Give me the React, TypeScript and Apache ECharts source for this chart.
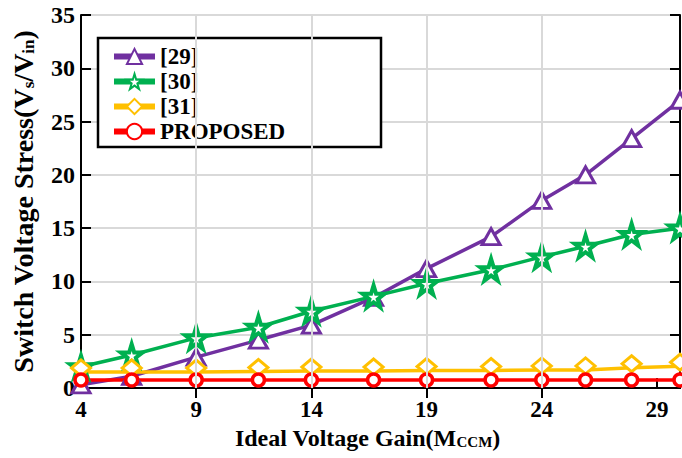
import React, { useEffect, useRef } from 'react';
import * as echarts from 'echarts';

const gain = [4, 6.2, 9, 11.7, 14, 16.7, 19, 21.8, 24, 25.9, 27.9, 30];
const ref29 = [0.3, 1.1, 2.9, 4.5, 5.9, 8.5, 11.2, 14.2, 17.6, 20.0, 23.4, 27.0];
const ref30 = [2.0, 3.1, 4.7, 5.7, 7.2, 8.6, 9.8, 11.1, 12.3, 13.3, 14.4, 15.0];
const ref31 = [1.5, 1.5, 1.5, 1.55, 1.6, 1.6, 1.65, 1.65, 1.7, 1.7, 1.9, 2.05];
const proposed = [0.75, 0.75, 0.75, 0.75, 0.75, 0.75, 0.75, 0.75, 0.75, 0.75, 0.75, 0.75];
const seriesNames = ['[29]', '[30]', '[31]', 'PROPOSED'];
const xTickLabels = [4, 9, 14, 19, 24, 29];
const xGridLines = [9, 14, 19, 24];

const FONT = '"Liberation Serif", "Times New Roman", serif';
const STAR = 'path://M50,0 L61,35 L98,35 L68,57 L79,91 L50,70 L21,91 L32,57 L2,35 L39,35 Z';

function pairs(ys: number[]) {
  return ys.map((y, i) => [gain[i], y]);
}

export default function App() {
  const ref = useRef<HTMLDivElement>(null);
  useEffect(() => {
    if (!ref.current) return;
    const chart = echarts.init(ref.current, null, { renderer: 'svg' });
    const axisLine = { show: true, lineStyle: { color: '#000', width: 2 } };
    const tick = { show: true, inside: true, length: 10, lineStyle: { color: '#000', width: 2 } };
    const mkSeries = (name: string, data: number[], color: string, symbol: string, size: any, bw: number, extra: any = {}) => ({
      name,
      type: 'line',
      data: pairs(data),
      symbol,
      symbolSize: size,
      showAllSymbol: true,
      clip: false,
      lineStyle: { color, width: 3.5 },
      itemStyle: { color: '#fff', borderColor: color, borderWidth: bw },
      emphasis: { disabled: true },
      z: 2,
      ...extra,
    });
    chart.setOption({
      animation: false,
      backgroundColor: '#fff',
      grid: { left: 81, right: 2, top: 15, bottom: 70 },
      xAxis: [
        {
          type: 'value',
          min: 4,
          max: 30,
          axisLine,
          axisTick: { ...tick, customValues: xTickLabels },
          splitLine: { show: false },
          axisLabel: {
            customValues: xTickLabels,
            color: '#000',
            fontFamily: FONT,
            fontWeight: 'bold',
            fontSize: 23,
            margin: 10,
          },
          name: '{a|Ideal Voltage Gain(M}{s|CCM}{a|)}',
          nameLocation: 'middle',
          nameGap: 36,
          nameTextStyle: {
            padding: [0, 26, 0, 0],
            rich: {
              a: { fontFamily: FONT, fontWeight: 'bold', fontSize: 24, color: '#000' },
              s: { fontFamily: FONT, fontWeight: 'bold', fontSize: 15, color: '#000', verticalAlign: 'bottom' },
            },
          },
        },
        {
          type: 'value',
          position: 'top',
          min: 4,
          max: 30,
          axisLine,
          axisTick: { ...tick, customValues: xGridLines },
          axisLabel: { show: false },
          splitLine: { show: false },
        },
      ],
      yAxis: [
        {
          type: 'value',
          min: 0,
          max: 35,
          interval: 5,
          axisLine,
          axisTick: tick,
          splitLine: { show: true, lineStyle: { color: '#d9d9d9', width: 2 } },
          axisLabel: {
            color: '#000',
            fontFamily: FONT,
            fontWeight: 'bold',
            fontSize: 24,
            margin: 6,
          },
          name: '{a|Switch Voltage Stress(V}{s|s}{a|/V}{s|in}{a|)}',
          nameLocation: 'middle',
          nameGap: 44,
          nameTextStyle: {
            rich: {
              a: { fontFamily: FONT, fontWeight: 'bold', fontSize: 28, color: '#000' },
              s: { fontFamily: FONT, fontWeight: 'bold', fontSize: 17, color: '#000', verticalAlign: 'bottom' },
            },
          },
        },
        {
          type: 'value',
          position: 'right',
          min: 0,
          max: 35,
          interval: 5,
          axisLine,
          axisTick: tick,
          axisLabel: { show: false },
          splitLine: { show: false },
        },
      ],
      legend: {
        data: seriesNames,
        orient: 'vertical',
        left: 111,
        top: 45,
        padding: 0,
        itemWidth: 41,
        itemHeight: 19,
        itemGap: 2,
        lineStyle: { width: 6 },
        textStyle: { fontFamily: FONT, fontWeight: 'bold', fontSize: 23, color: '#000' },
        selectedMode: false,
        z: 4,
      },
      graphic: [
        {
          type: 'rect',
          z: 3,
          shape: { x: 98, y: 38, width: 283, height: 109 },
          style: { fill: '#fff', stroke: '#000', lineWidth: 2.5 },
        },
      ],
      series: [
        {
          name: 'grid',
          type: 'line',
          data: [],
          z: 1,
          silent: true,
          markLine: {
            silent: true,
            symbol: 'none',
            label: { show: false },
            lineStyle: { color: '#d9d9d9', width: 2, type: 'solid' },
            data: xGridLines.map((v) => ({ xAxis: v })),
          },
        },
        mkSeries(seriesNames[0], ref29, '#7030A0', 'triangle', [18, 16], 3),
        mkSeries(seriesNames[1], ref30, '#00B050', STAR, 22, 4),
        mkSeries(seriesNames[2], ref31, '#FFC000', 'diamond', [19, 16], 3, { symbolOffset: [0, -4] }),
        mkSeries(seriesNames[3], proposed, '#FF0000', 'circle', 12, 3.5),
      ],
    });
    return () => chart.dispose();
  }, []);
  return (
    <div
      ref={ref}
      style={{ position: 'fixed', left: 0, top: 0, width: 682, height: 458, background: '#fff' }}
    />
  );
}
